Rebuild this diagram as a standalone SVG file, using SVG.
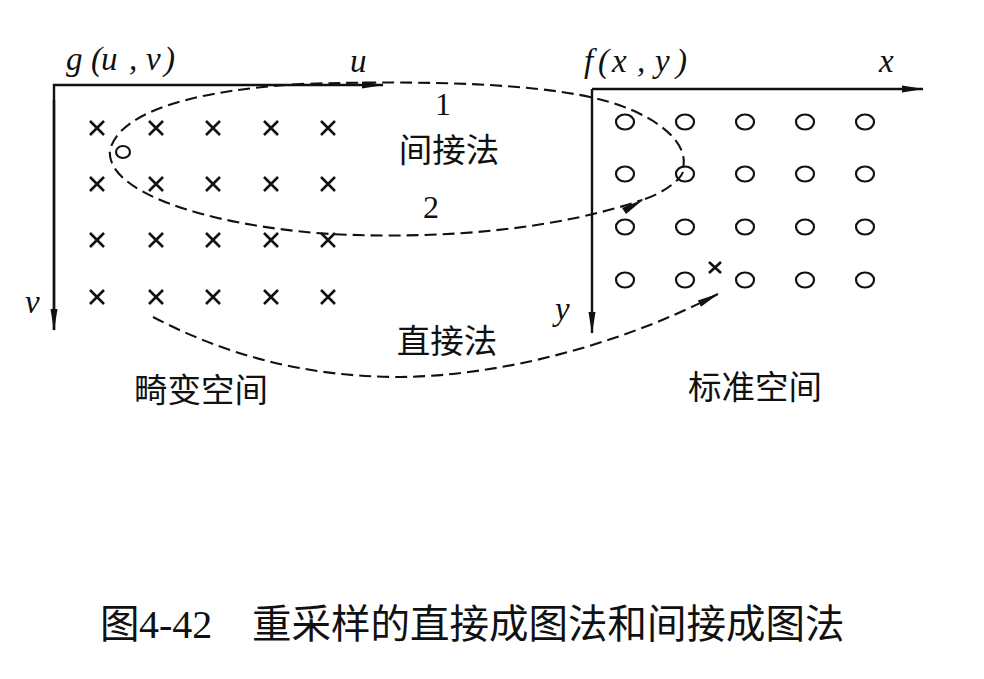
<svg xmlns="http://www.w3.org/2000/svg" width="984" height="679" viewBox="0 0 984 679">
<style>
.ax{stroke:#111;stroke-width:2.4;fill:none}
.cr{stroke:#111;stroke-width:2.6;fill:none}
.ci{stroke:#111;stroke-width:2.2;fill:none}
.dash{stroke:#111;stroke-width:2.1;fill:none;stroke-dasharray:12 6}
.m{font-family:"Liberation Serif",serif;font-style:italic;font-size:33px;fill:#111}
.n{font-family:"Liberation Serif",serif;font-size:32px;fill:#111}
.c{font-family:"Noto Sans CJK SC",sans-serif;font-size:33.5px;fill:#111}
.cap{font-family:"Noto Sans CJK SC",sans-serif;font-size:39.5px;fill:#111}
.capn{font-family:"Liberation Serif",serif;font-size:40px;fill:#111}
</style>
<defs>
<marker id="ah" markerWidth="22" markerHeight="10" refX="21" refY="5" orient="auto" markerUnits="userSpaceOnUse">
<path d="M0,1.5 L22,5 L0,8.5 Z" fill="#111"/>
</marker>
<g id="x"><path d="M-7,-7 L7,7 M7,-7 L-7,7"/></g>
</defs>
<rect width="984" height="679" fill="#fff"/>

<g id="distorted-space">
<path class="ax" d="M54,330 L54,85 L383,85" marker-end="url(#ah)"/>
<path class="ax" d="M54,100 L54,330" marker-end="url(#ah)"/>
<text class="m" y="70"><tspan x="66">g</tspan><tspan x="91">(</tspan><tspan x="101">u</tspan><tspan x="129">,</tspan><tspan x="146">v</tspan><tspan x="164">)</tspan></text>
<text class="m" x="350" y="72">u</text>
<text class="m" x="25" y="313">v</text>
<g class="cr">
<use href="#x" x="97" y="128"/><use href="#x" x="156" y="128"/><use href="#x" x="213" y="128"/><use href="#x" x="271" y="128"/><use href="#x" x="328" y="128"/>
<use href="#x" x="97" y="184"/><use href="#x" x="156" y="184"/><use href="#x" x="213" y="184"/><use href="#x" x="271" y="184"/><use href="#x" x="328" y="184"/>
<use href="#x" x="97" y="240"/><use href="#x" x="156" y="240"/><use href="#x" x="213" y="240"/><use href="#x" x="271" y="240"/><use href="#x" x="328" y="240"/>
<use href="#x" x="97" y="297"/><use href="#x" x="156" y="297"/><use href="#x" x="213" y="297"/><use href="#x" x="271" y="297"/><use href="#x" x="328" y="297"/>
</g>
<ellipse class="ci" cx="123" cy="152" rx="7" ry="6"/>
<text class="c" x="201" y="402" text-anchor="middle">畸变空间</text>
</g>

<g id="standard-space">
<path class="ax" d="M592,89 L923,89" marker-end="url(#ah)"/>
<path class="ax" d="M592,89 L592,333" marker-end="url(#ah)"/>
<text class="m" y="72"><tspan x="584">f</tspan><tspan x="598">(</tspan><tspan x="612">x</tspan><tspan x="637">,</tspan><tspan x="655">y</tspan><tspan x="676">)</tspan></text>
<text class="m" x="879" y="72">x</text>
<text class="m" x="555" y="320">y</text>
<g class="ci">
<ellipse cx="625" cy="122" rx="9" ry="7.5"/><ellipse cx="685" cy="122" rx="9" ry="7.5"/><ellipse cx="745" cy="122" rx="9" ry="7.5"/><ellipse cx="805" cy="122" rx="9" ry="7.5"/><ellipse cx="865" cy="122" rx="9" ry="7.5"/>
<ellipse cx="625" cy="174" rx="9" ry="7.5"/><ellipse cx="685" cy="174" rx="9" ry="7.5"/><ellipse cx="745" cy="174" rx="9" ry="7.5"/><ellipse cx="805" cy="174" rx="9" ry="7.5"/><ellipse cx="865" cy="174" rx="9" ry="7.5"/>
<ellipse cx="625" cy="227" rx="9" ry="7.5"/><ellipse cx="685" cy="227" rx="9" ry="7.5"/><ellipse cx="745" cy="227" rx="9" ry="7.5"/><ellipse cx="805" cy="227" rx="9" ry="7.5"/><ellipse cx="865" cy="227" rx="9" ry="7.5"/>
<ellipse cx="625" cy="280" rx="9" ry="7.5"/><ellipse cx="685" cy="280" rx="9" ry="7.5"/><ellipse cx="745" cy="280" rx="9" ry="7.5"/><ellipse cx="805" cy="280" rx="9" ry="7.5"/><ellipse cx="865" cy="280" rx="9" ry="7.5"/>
</g>
<path class="cr" d="M709,262 L721,273 M721,262 L709,273"/>
<text class="c" x="755" y="399" text-anchor="middle">标准空间</text>
</g>

<g id="connectors">
<path class="dash" d="M683,168 C690,140 650,110 590,97 C530,84 430,80 300,84 C200,90 120,110 110,150 C105,190 200,225 330,234 C450,240 560,228 642,200"/>
<path d="M622,208 L644,199 L626,214 Z" fill="#111"/>
<path class="dash" d="M645,199 C665,192 680,180 683,172"/>
<path class="dash" d="M153,317 C220,352 300,377 400,377 C500,376 620,345 718,294" marker-end="url(#ah)"/>
<text class="n" x="443" y="115" text-anchor="middle">1</text>
<text class="c" x="449" y="162" text-anchor="middle">间接法</text>
<text class="n" x="431" y="218" text-anchor="middle">2</text>
<text class="c" x="447" y="353" text-anchor="middle">直接法</text>
</g>

<g id="caption">
<text class="cap" x="100" y="638">图</text>
<text class="capn" x="139" y="638">4-42</text>
<text class="cap" x="252" y="638">重采样的直接成图法和间接成图法</text>
</g>
</svg>
